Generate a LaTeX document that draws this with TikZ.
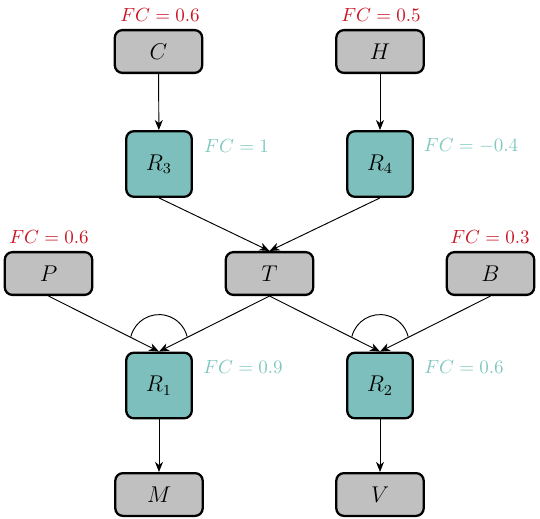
\documentclass[tikz,border=0pt]{standalone}
\usetikzlibrary{arrows.meta,calc}
\definecolor{boxgray}{RGB}{192,192,192}
\definecolor{boxteal}{RGB}{124,191,188}
\definecolor{fcteal}{RGB}{128,200,192}
\definecolor{fcred}{RGB}{200,20,35}
\tikzset{
  graybox/.style={draw=black, line width=1.2pt, rounded corners=4pt, fill=boxgray,
    minimum width=46pt, minimum height=22.5pt, inner sep=0pt, font=\large},
  tealbox/.style={draw=black, line width=1.2pt, rounded corners=4pt, fill=boxteal,
    minimum width=34.5pt, minimum height=34.5pt, inner sep=0pt, font=\large},
  fcr/.style={text=fcred, inner sep=0pt},
  fct/.style={text=fcteal, inner sep=0pt},
  conn/.style={line width=0.5pt, -{Stealth[length=5.3pt,width=4.2pt,inset=1.6pt]}},
}
\begin{document}
\begin{tikzpicture}[x=0.5263pt,y=-0.5263pt]
\useasboundingbox (0,0) rectangle (540,518);
% nodes
\node[graybox] (C) at (158.5,51.5) {$C$};
\node[graybox] (H) at (380,51.5) {$H$};
\node[tealbox] (R3) at (159,164) {$R_3$};
\node[tealbox] (R4) at (380,164) {$R_4$};
\node[graybox] (P) at (48.5,273.5) {$P$};
\node[graybox] (T) at (269.5,273.5) {$T$};
\node[graybox] (B) at (490.5,273.5) {$B$};
\node[tealbox] (R1) at (159,385.5) {$R_1$};
\node[tealbox] (R2) at (380,385.5) {$R_2$};
\node[graybox] (M) at (159,494.5) {$M$};
\node[graybox] (V) at (380,494.5) {$V$};
% labels
\node[fcr] (fcC) at (160,15) {$FC=0.6$};
\node[fcr] (fcH) at (381,15) {$FC=0.5$};
\node[fct] (fcR3) at (236.5,146) {$FC=1$};
\node[fct] (fcR4) at (471,146) {$FC=-0.4$};
\node[fcr] (fcP) at (49,237) {$FC=0.6$};
\node[fcr] (fcB) at (490,237) {$FC=0.3$};
\node[fct] (fcR1) at (243,367) {$FC=0.9$};
\node[fct] (fcR2) at (464,367) {$FC=0.6$};
% connectors
\draw[conn] (C) -- (R3);
\draw[conn] (H) -- (R4);
\draw[conn] (R3.south) -- (T.north);
\draw[conn] (R4.south) -- (T.north);
\draw[conn] (P.south) -- (R1.north);
\draw[conn] (T.south) -- (R1.north);
\draw[conn] (T.south) -- (R2.north);
\draw[conn] (B.south) -- (R2.north);
\draw[conn] (R1) -- (M);
\draw[conn] (R2) -- (V);
% conjunction arcs
\coordinate (a1) at ($(R1.north)+(0,-8)$);
\coordinate (a2) at ($(R2.north)+(0,-8)$);
\draw[line width=0.5pt] ([shift={(-166:29)}]a1) arc[start angle=-166,end angle=-14,radius=29];
\draw[line width=0.5pt] ([shift={(-166:29)}]a2) arc[start angle=-166,end angle=-14,radius=29];
\end{tikzpicture}
\end{document}
